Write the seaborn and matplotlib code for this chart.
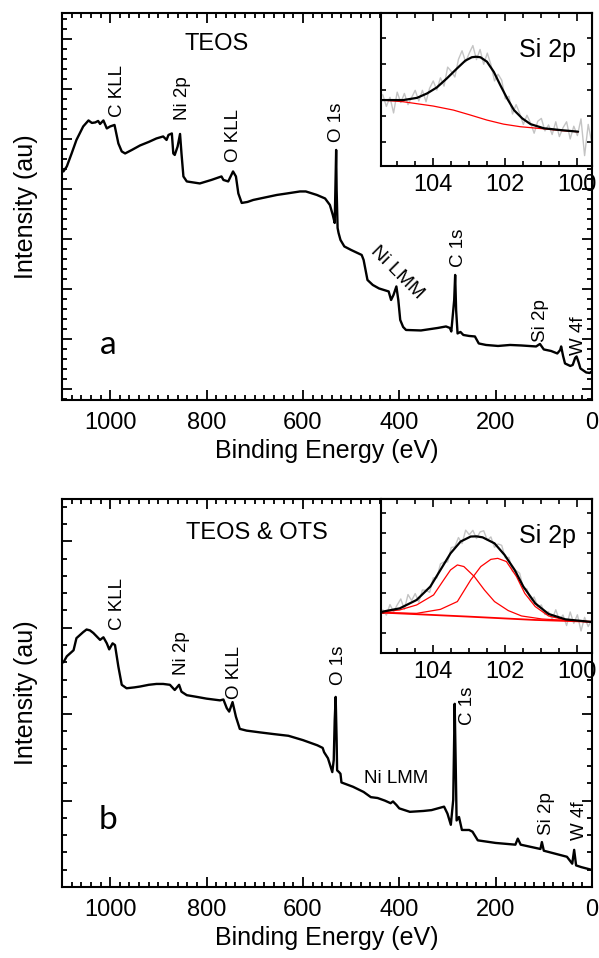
import numpy as np
import pandas as pd
import matplotlib
matplotlib.use("Agg")
import matplotlib.pyplot as plt
from matplotlib.ticker import MultipleLocator, NullFormatter
import seaborn as sns

# ---------------- survey spectra (binding energy eV, intensity a.u.) ----------------
be_a = [1097, 1090, 1080, 1070, 1056, 1045, 1038, 1031, 1025, 1021, 1014, 1007, 1000, 991,
        983, 976, 969, 955, 938, 920, 904, 890, 883, 879, 872, 869, 866, 860, 855, 852, 848,
        841, 814, 790, 769, 765, 755, 745, 739, 734, 727, 715, 703, 654, 633, 606, 594, 571,
        554, 544, 538, 534, 532, 531, 530, 528, 526, 522, 514, 500, 478, 474, 470, 466, 455,
        442, 422, 417, 412, 406, 402, 398, 392, 386, 355, 320, 303, 295, 292, 286, 284, 282,
        279, 273, 267, 255, 243, 235, 220, 195, 170, 147, 116, 108, 100, 85, 72, 66, 64, 60,
        56, 45, 40, 35, 32, 28, 24, 12, 5, 0]
int_a = [4.35, 4.45, 4.71, 4.98, 5.25, 5.37, 5.32, 5.33, 5.36, 5.30, 5.37, 5.21, 5.25, 5.28,
         4.91, 4.75, 4.71, 4.78, 4.87, 4.94, 5.01, 5.05, 4.98, 5.08, 5.11, 4.71, 4.68, 4.85,
         5.10, 4.71, 4.25, 4.15, 4.11, 4.18, 4.25, 4.18, 4.15, 4.35, 4.25, 3.91, 3.72, 3.74,
         3.78, 3.88, 3.91, 3.95, 3.95, 3.88, 3.81, 3.68, 3.48, 3.32, 4.28, 4.78, 3.98, 3.22,
         3.12, 2.98, 2.85, 2.78, 2.68, 2.58, 2.38, 2.18, 2.08, 2.01, 1.95, 1.78, 1.88, 2.05,
         1.78, 1.38, 1.24, 1.18, 1.17, 1.22, 1.25, 1.22, 1.15, 1.78, 2.28, 1.58, 1.11, 1.14,
         1.08, 1.06, 1.05, 0.91, 0.88, 0.86, 0.88, 0.87, 0.85, 0.90, 0.79, 0.76, 0.71, 0.78,
         0.85, 0.66, 0.51, 0.46, 0.48, 0.62, 0.65, 0.54, 0.41, 0.33, 0.32, 0.35]

be_b = [1097, 1090, 1076, 1070, 1056, 1049, 1042, 1035, 1028, 1021, 1014, 1007, 1002, 995,
        990, 983, 976, 966, 950, 938, 920, 904, 890, 876, 866, 857, 852, 841, 820, 800, 772,
        765, 758, 753, 746, 739, 731, 717, 690, 661, 630, 600, 570, 559, 556, 548, 539, 536,
        534, 532, 530, 529, 525, 522, 520, 496, 474, 459, 445, 430, 418, 413, 406, 400, 378,
        350, 333, 307, 300, 293, 288, 285, 283, 281, 276, 270, 255, 248, 237, 200, 159, 154,
        148, 107, 104, 100, 52, 41, 37, 33, 22, 1.5]
int_b = [2.60, 2.67, 2.74, 2.88, 2.95, 2.98, 2.97, 2.94, 2.90, 2.86, 2.89, 2.82, 2.75, 2.82,
         2.80, 2.55, 2.34, 2.30, 2.31, 2.32, 2.34, 2.35, 2.35, 2.34, 2.28, 2.34, 2.26, 2.22,
         2.20, 2.18, 2.16, 2.17, 2.07, 2.03, 2.14, 1.97, 1.83, 1.81, 1.79, 1.77, 1.75, 1.70,
         1.64, 1.61, 1.56, 1.49, 1.33, 1.47, 1.93, 2.20, 1.70, 1.35, 1.33, 1.31, 1.21, 1.16,
         1.10, 1.04, 1.03, 1.00, 0.97, 0.99, 0.95, 0.91, 0.87, 0.88, 0.89, 0.93, 0.85, 0.72,
         1.01, 2.12, 1.47, 0.77, 0.81, 0.66, 0.66, 0.64, 0.54, 0.51, 0.49, 0.56, 0.49, 0.44,
         0.52, 0.42, 0.35, 0.27, 0.43, 0.25, 0.23, 0.20]

# ---------------- Si 2p high resolution insets ----------------
si_raw_be = [105.4, 105.3, 105.2, 105.1, 105.0, 104.9, 104.8, 104.7, 104.6, 104.5, 104.4,
             104.3, 104.2, 104.1, 104.0, 103.9, 103.8, 103.7, 103.6, 103.5, 103.4, 103.3,
             103.2, 103.1, 103.0, 102.9, 102.8, 102.7, 102.6, 102.5, 102.4, 102.3, 102.2,
             102.1, 102.0, 101.9, 101.8, 101.7, 101.6, 101.5, 101.4, 101.3, 101.2, 101.1,
             101.0, 100.9, 100.8, 100.7, 100.6, 100.5, 100.4, 100.3, 100.2, 100.1, 100.0,
             99.9, 99.8, 99.7, 99.6]
si_raw_a = [1.82, 1.37, 1.72, 1.12, 1.92, 1.52, 1.87, 1.44, 1.71, 1.99, 1.58, 1.99, 1.55,
            2.07, 2.35, 2.00, 2.47, 2.15, 2.88, 2.72, 2.50, 3.18, 3.51, 3.08, 3.42, 3.71,
            3.17, 3.56, 2.99, 3.42, 2.98, 2.35, 2.61, 2.38, 1.66, 1.76, 1.08, 1.44, 1.10,
            0.68, 1.03, 0.74, 0.34, 0.80, 0.91, 0.43, 0.66, 0.29, 0.78, 0.21, 0.55, 0.78,
            0.12, 0.61, 0.25, 0.89, -0.52, 0.68, -0.03]
si_raw_b = [2.16, 1.89, 2.42, 2.06, 2.40, 2.70, 2.18, 2.92, 2.62, 2.97, 2.54, 3.15, 3.13,
            3.03, 3.75, 3.75, 4.45, 4.55, 4.55, 5.27, 5.31, 5.77, 5.47, 6.14, 5.91, 6.13,
            5.72, 6.05, 6.11, 5.64, 5.80, 5.28, 5.45, 5.38, 4.75, 4.78, 4.07, 4.12, 3.98,
            3.22, 3.20, 2.60, 2.80, 2.31, 2.40, 1.92, 2.06, 1.68, 2.16, 1.65, 1.90, 1.37,
            2.05, 1.48, 1.91, 1.10, 1.78, 1.32, 1.66]

env_be_a = [105.43, 104.83, 104.45, 104.17, 103.9, 103.62, 103.34, 103.11, 102.93, 102.81,
            102.69, 102.51, 102.32, 102.14, 101.95, 101.76, 101.53, 101.3, 100.93, 100.46, 99.98]
env_a = [1.615, 1.615, 1.70, 1.87, 2.10, 2.45, 2.83, 3.13, 3.26, 3.28, 3.26, 3.09, 2.70, 2.19,
         1.68, 1.23, 0.91, 0.69, 0.53, 0.46, 0.40]
bg_be_a = [105.43, 104.83, 104.0, 103.44, 102.97, 102.51, 102.05, 101.58, 100.94, 100.38, 99.98]
bg_a = [1.615, 1.55, 1.385, 1.23, 1.04, 0.846, 0.69, 0.59, 0.51, 0.435, 0.396]

env_be_b = [105.45, 104.93, 104.46, 104.08, 103.8, 103.52, 103.24, 102.96, 102.8, 102.63,
            102.3, 102.02, 101.74, 101.5, 101.17, 100.8, 100.33, 99.6]
env_b = [2.05, 2.23, 2.65, 3.32, 4.15, 4.98, 5.57, 5.82, 5.83, 5.78, 5.48, 4.90, 4.15, 3.32,
         2.48, 1.95, 1.68, 1.55]
c1_be_b = [105.45, 104.93, 104.46, 103.99, 103.71, 103.52, 103.33, 103.15, 102.86, 102.58,
           102.3, 101.92, 101.55, 100.99, 99.6]
c1_b = [2.05, 2.15, 2.40, 2.90, 3.65, 4.15, 4.40, 4.32, 3.82, 3.15, 2.57, 2.12, 1.85, 1.70, 1.55]
c2_be_b = [105.45, 104.46, 103.8, 103.33, 102.96, 102.68, 102.4, 102.21, 101.97, 101.69,
           101.46, 101.17, 100.8, 100.33, 99.6]
c2_b = [2.02, 1.98, 2.18, 2.57, 3.65, 4.32, 4.68, 4.73, 4.57, 3.82, 2.98, 2.32, 1.85, 1.65, 1.55]
bg_be_b = [105.45, 103.05, 101.17, 99.6]
bg_b = [2.02, 1.82, 1.65, 1.56]

# ---------------- labels ----------------
titles = ["TEOS", "TEOS & OTS"]
panel_letters = ["a", "b"]
peaks_a = ["C KLL", "Ni 2p", "O KLL", "O 1s", "C 1s", "Si 2p", "W 4f"]
peaks_b = ["C KLL", "Ni 2p", "O KLL", "O 1s", "C 1s", "Si 2p", "W 4f"]
xticks = [1000, 800, 600, 400, 200, 0]
inset_ticks = [104, 102, 100]

# ---------------- style ----------------
sns.set_theme(style="ticks")
ARIAL = ["Liberation Sans", "DejaVu Sans"]
plt.rcParams["font.family"] = ARIAL
plt.rcParams["text.color"] = "black"
plt.rcParams["axes.labelcolor"] = "black"
plt.rcParams["xtick.color"] = "black"
plt.rcParams["ytick.color"] = "black"
plt.rcParams["axes.edgecolor"] = "black"
plt.rcParams["axes.linewidth"] = 1.5
LETTER = ["Lato", "DejaVu Sans"]

fig = plt.figure(figsize=(5.99, 9.58), dpi=100)
ax_a = fig.add_axes([0.1035, 0.5825, 0.8848, 0.4040])
ax_b = fig.add_axes([0.1035, 0.0741, 0.8848, 0.4050])
in_a = fig.add_axes([0.636, 0.8267, 0.352, 0.1597])
in_b = fig.add_axes([0.636, 0.3184, 0.352, 0.1608])


def style_main(ax, ylim):
    ax.set_xlim(1100, 0)
    ax.set_ylim(*ylim)
    ax.set_xticks(xticks)
    ax.xaxis.set_minor_locator(MultipleLocator(20))
    ax.yaxis.set_major_locator(MultipleLocator(1))
    ax.yaxis.set_minor_locator(MultipleLocator(0.2))
    ax.yaxis.set_major_formatter(NullFormatter())
    ax.tick_params(which="both", direction="in", top=True, right=True, width=1.3,
                   colors="black")
    ax.tick_params(which="major", length=7)
    ax.tick_params(which="minor", length=3.5)
    ax.tick_params(axis="x", labelsize=17, pad=8.5)
    ax.set_xlabel("Binding Energy (eV)", fontsize=18, labelpad=4)
    ax.set_ylabel("Intensity (au)", fontsize=18, labelpad=14)
    for s in ax.spines.values():
        s.set_color("black")
        s.set_linewidth(1.5)


def style_inset(ax, ylim):
    ax.set_xlim(105.45, 99.6)
    ax.set_ylim(*ylim)
    ax.set_xticks(inset_ticks)
    ax.xaxis.set_minor_locator(MultipleLocator(0.5))
    ax.yaxis.set_major_locator(MultipleLocator(1))
    ax.yaxis.set_major_formatter(NullFormatter())
    ax.tick_params(which="both", direction="in", top=True, right=True, width=1.2,
                   colors="black")
    ax.tick_params(axis="x", which="major", length=6, labelsize=17, pad=6)
    ax.tick_params(axis="x", which="minor", length=3.5)
    ax.tick_params(axis="y", which="major", length=3.5)
    ax.set_facecolor("white")
    ax.set_xlabel("")
    ax.set_ylabel("")
    for s in ax.spines.values():
        s.set_color("black")
        s.set_linewidth(1.5)
    ax.text(0.79, 0.76, "Si 2p", transform=ax.transAxes, fontsize=18,
            ha="center", va="center")


# survey lines
sns.lineplot(x=be_a, y=int_a, ax=ax_a, color="black", lw=1.7, sort=False, estimator=None)
sns.lineplot(x=be_b, y=int_b, ax=ax_b, color="black", lw=1.7, sort=False, estimator=None)
style_main(ax_a, (-0.22, 7.52))
style_main(ax_b, (0.0, 4.49))

# insets
sns.lineplot(x=si_raw_be, y=si_raw_a, ax=in_a, color="#c4c4c4", lw=1.0, sort=False, estimator=None)
sns.lineplot(x=bg_be_a, y=bg_a, ax=in_a, color="red", lw=0.9, sort=False, estimator=None)
sns.lineplot(x=env_be_a, y=env_a, ax=in_a, color="black", lw=1.6, sort=False, estimator=None)
style_inset(in_a, (-0.92, 4.96))

sns.lineplot(x=si_raw_be, y=si_raw_b, ax=in_b, color="#c4c4c4", lw=1.0, sort=False, estimator=None)
sns.lineplot(x=bg_be_b, y=bg_b, ax=in_b, color="red", lw=1.3, sort=False, estimator=None)
sns.lineplot(x=c1_be_b, y=c1_b, ax=in_b, color="red", lw=0.9, sort=False, estimator=None)
sns.lineplot(x=c2_be_b, y=c2_b, ax=in_b, color="red", lw=0.9, sort=False, estimator=None)
sns.lineplot(x=env_be_b, y=env_b, ax=in_b, color="black", lw=1.6, sort=False, estimator=None)
style_inset(in_b, (0.0, 7.7))

# annotations panel a
pos_a = [(985, 5.44), (850, 5.38), (745, 4.54), (531, 4.94), (278, 2.44), (106, 0.94), (29, 0.68)]
for t, (x, y) in zip(peaks_a, pos_a):
    ax_a.text(x, y, t, rotation=90, ha="center", va="bottom", fontsize=13.5)
ax_a.text(405, 2.32, "Ni LMM", rotation=-45, ha="center", va="center", fontsize=14)
ax_a.text(780, 6.9, titles[0], ha="center", va="center", fontsize=17)
ax_a.text(1005, 0.88, panel_letters[0], ha="center", va="center", fontsize=24, family=LETTER)

# annotations panel b
pos_b = [(985, 2.97), (853, 2.45), (741, 2.18), (527, 2.34), (258, 1.87), (95, 0.60), (26, 0.54)]
for t, (x, y) in zip(peaks_b, pos_b):
    ax_b.text(x, y, t, rotation=90, ha="center", va="bottom", fontsize=13.5)
ax_b.text(407, 1.25, "Ni LMM", ha="center", va="center", fontsize=13.5)
ax_b.text(695, 4.10, titles[1], ha="center", va="center", fontsize=17)
ax_b.text(1004, 0.77, panel_letters[1], ha="center", va="center", fontsize=24, family=LETTER)

fig.savefig("out.png", dpi=100)
